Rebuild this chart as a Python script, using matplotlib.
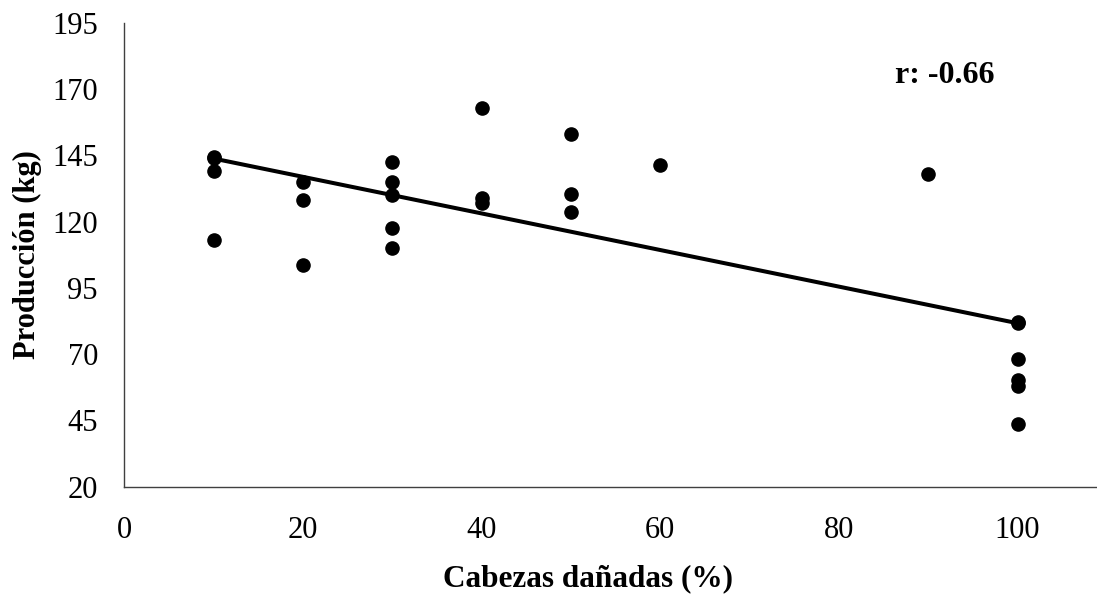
import numpy as np
import matplotlib.pyplot as plt

# damaged heads (%) vs yield (kg)
danadas = [10, 10, 10, 10, 20, 20, 20, 30, 30, 30, 30, 30,
           40, 40, 40, 50, 50, 50, 60, 90, 100, 100, 100, 100, 100, 100]
produccion = [144.4, 143.8, 139, 113, 135, 128, 103.5, 142.5, 135, 130, 117.5, 110.2,
              163, 129, 127, 153, 130.5, 123.5, 141.5, 138, 82.2, 81.6, 68.2, 60.2, 58, 43.5]
r_text = "r: -0.66"

plt.rcParams["font.family"] = ["Liberation Serif", "DejaVu Serif"]

fig = plt.figure(figsize=(10.97, 5.96), dpi=100)
ax = fig.add_axes([0.1133, 0.1834, 0.8867, 0.7785])

ax.scatter(danadas, produccion, s=90, color="black", zorder=3)

slope, intercept = np.polyfit(danadas, produccion, 1)
xs = np.array([min(danadas), max(danadas)])
ax.plot(xs, slope * xs + intercept, color="black", lw=2.9, zorder=2)

ax.set_xlim(0, 108.9)
ax.set_ylim(20, 195)
ax.set_xticks(np.arange(0, 101, 20))
ax.set_yticks(np.arange(20, 196, 25))
ax.tick_params(length=0, labelsize=22)
ax.tick_params(axis="x", pad=21)
ax.tick_params(axis="y", pad=19)

for side in ["top", "right"]:
    ax.spines[side].set_visible(False)
for side in ["left", "bottom"]:
    ax.spines[side].set_color("#404040")
    ax.spines[side].set_linewidth(1.0)

ax.set_xlabel("Cabezas dañadas (%)", fontsize=22.5, fontweight="bold")
ax.xaxis.set_label_coords(0.4767, -0.168)
ax.set_ylabel("Producción (kg)", fontsize=22, fontweight="bold")
ax.yaxis.set_label_coords(-0.085, 0.5)

ax.text(0.792, 0.887, r_text, transform=ax.transAxes, fontsize=23,
        fontweight="bold", ha="left", va="center")

fig.savefig("out.png", dpi=100)
